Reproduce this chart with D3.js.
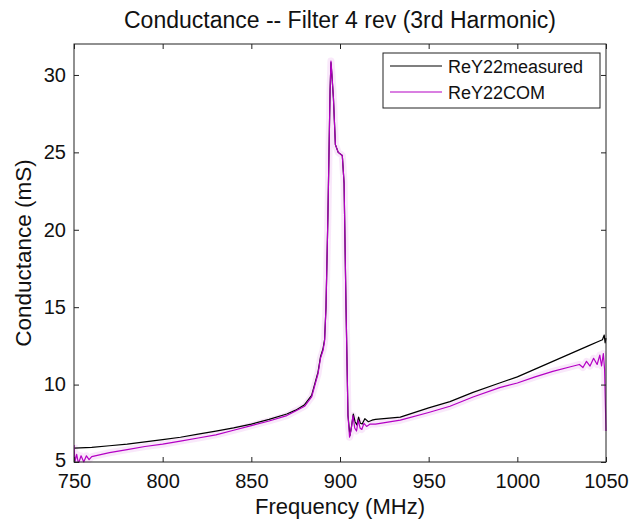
<!DOCTYPE html>
<html>
<head>
<meta charset="utf-8">
<script src="https://cdn.jsdelivr.net/npm/d3@7"></script>
<style>
  html, body { margin: 0; padding: 0; background: #fff; }
  text { font-family: "Liberation Sans", Arial, sans-serif; fill: #111; }
</style>
</head>
<body>
<svg id="chart" width="631" height="523"></svg>
<script>
// Frequency sweep (MHz) and real part of Y22 (mS)
const freqMeasured = [750, 760, 770, 780, 790, 800, 810, 820, 830, 840, 850, 860, 870, 875, 880, 884, 887.6, 889, 890.4, 891.3, 892.1, 893.2, 894.4, 894.9, 895.3, 896.3, 897.4, 899, 901.3, 902.3, 903.4, 904.5, 905.6, 906.5, 907.5, 908.5, 909.5, 910.5, 911.5, 912.5, 914, 916, 918, 920, 934, 950, 962, 975, 990, 1000, 1010, 1020, 1030, 1040, 1046, 1048, 1049, 1049.5, 1050];
const reY22measured = [5.9, 5.95, 6.05, 6.15, 6.3, 6.45, 6.6, 6.8, 7.0, 7.2, 7.45, 7.75, 8.1, 8.35, 8.7, 9.3, 10.8, 11.8, 12.3, 12.9, 15, 21, 29, 30.8, 30.2, 28.5, 25.5, 25.0, 24.8, 23, 15, 8, 6.7, 7.3, 8.1, 7.6, 7.4, 7.9, 7.5, 7.45, 7.8, 7.6, 7.7, 7.75, 7.9, 8.5, 8.9, 9.5, 10.1, 10.5, 11.0, 11.5, 12.0, 12.5, 12.8, 12.9, 13.2, 12.7, 13.0];

const freqCOM = [750, 750.5, 751.5, 752.5, 754, 755.5, 757, 758.5, 760, 770, 780, 790, 800, 810, 820, 830, 840, 850, 860, 870, 875, 880, 884, 887.6, 889, 890.4, 891.3, 892.1, 893.2, 894.4, 894.9, 895.3, 896.3, 897.4, 899, 901.3, 902.3, 903.4, 904.5, 905.4, 906.3, 907.3, 908.3, 909.3, 910.3, 911.3, 912.3, 913.5, 915, 917, 920, 934, 950, 962, 975, 990, 1000, 1010, 1020, 1030, 1035, 1037, 1039, 1041, 1043, 1045, 1046.5, 1047.5, 1048.5, 1049.2, 1049.6, 1050];
const reY22COM = [6.1, 5.0, 5.5, 4.9, 5.4, 5.0, 5.4, 5.15, 5.35, 5.6, 5.8, 6.0, 6.15, 6.35, 6.55, 6.75, 7.05, 7.35, 7.65, 8.0, 8.3, 8.6, 9.2, 10.7, 11.7, 12.2, 12.8, 15, 21, 29, 30.9, 30.3, 28.5, 25.5, 25.0, 24.8, 23, 15, 8, 6.6, 7.1, 8.0, 7.2, 7.0, 7.7, 7.2, 7.1, 7.5, 7.3, 7.45, 7.45, 7.7, 8.2, 8.6, 9.2, 9.8, 10.1, 10.5, 10.85, 11.15, 11.3, 11.1, 11.5, 11.2, 11.7, 11.3, 11.9, 11.2, 12.0, 11.0, 9.0, 7.0];

const xTicks = [750, 800, 850, 900, 950, 1000, 1050];
const yTicks = [5, 10, 15, 20, 25, 30];
const seriesNames = ["ReY22measured", "ReY22COM"];
const seriesColors = ["#000000", "#b400c4"];

const svg = d3.select("#chart");
const m = { left: 74, right: 606, top: 44, bottom: 462 };

const x = d3.scaleLinear().domain([750, 1050]).range([m.left, m.right]);
const y = d3.scaleLinear().domain([5, 32]).range([m.bottom, m.top]);

svg.append("defs").append("clipPath").attr("id", "plotclip")
  .append("rect")
  .attr("x", m.left).attr("y", m.top - 1)
  .attr("width", m.right - m.left + 1).attr("height", m.bottom - m.top + 2);

const line = d3.line().x(d => x(d[0])).y(d => y(d[1]));
const measured = freqMeasured.map((f, i) => [f, reY22measured[i]]);
const com = freqCOM.map((f, i) => [f, reY22COM[i]]);

const g = svg.append("g").attr("clip-path", "url(#plotclip)");
// soft halo along the magenta trace
g.append("path").datum(com).attr("d", line)
  .attr("fill", "none").attr("stroke", "#f3d2f5").attr("stroke-width", 7)
  .attr("stroke-linejoin", "round").attr("opacity", 0.5);
g.append("path").datum(measured).attr("d", line)
  .attr("fill", "none").attr("stroke", seriesColors[0]).attr("stroke-width", 1.2)
  .attr("stroke-linejoin", "round");
g.append("path").datum(com).attr("d", line)
  .attr("fill", "none").attr("stroke", seriesColors[1]).attr("stroke-width", 1.2)
  .attr("stroke-linejoin", "round");

// axes with inward ticks on all four sides
const tickLen = 5;
const fmt = d3.format("d");
const axB = svg.append("g").attr("transform", `translate(0,${m.bottom})`)
  .call(d3.axisBottom(x).tickValues(xTicks).tickSizeInner(-tickLen).tickSizeOuter(0).tickFormat(fmt));
const axT = svg.append("g").attr("transform", `translate(0,${m.top})`)
  .call(d3.axisTop(x).tickValues(xTicks).tickSizeInner(-tickLen).tickSizeOuter(0).tickFormat(""));
const axL = svg.append("g").attr("transform", `translate(${m.left},0)`)
  .call(d3.axisLeft(y).tickValues(yTicks).tickSizeInner(-tickLen).tickSizeOuter(0).tickPadding(8).tickFormat(fmt));
const axR = svg.append("g").attr("transform", `translate(${m.right},0)`)
  .call(d3.axisRight(y).tickValues(yTicks).tickSizeInner(-tickLen).tickSizeOuter(0).tickFormat(""));

[axB, axT, axL, axR].forEach(a => {
  a.select(".domain").remove();
  a.selectAll(".tick line").attr("stroke", "#222");
  a.selectAll(".tick text").attr("font-size", 20).attr("fill", "#111")
    .style("font-family", "'Liberation Sans', Arial, sans-serif");
});
// baseline placement of the frequency labels
axB.selectAll(".tick text").attr("dy", null).attr("y", 26);
// lift the lowest conductance label slightly so it clears "750"
axL.selectAll(".tick text").filter(d => d === 5).attr("dy", "0.22em");

// frame
svg.append("rect")
  .attr("x", m.left).attr("y", m.top)
  .attr("width", m.right - m.left).attr("height", m.bottom - m.top)
  .attr("fill", "none").attr("stroke", "#222").attr("stroke-width", 1);

// titles
svg.append("text").attr("x", 340).attr("y", 28).attr("text-anchor", "middle")
  .attr("font-size", 23).text("Conductance -- Filter 4 rev (3rd Harmonic)");
svg.append("text").attr("x", 340).attr("y", 514).attr("text-anchor", "middle")
  .attr("font-size", 22).text("Frequency (MHz)");
svg.append("text").attr("transform", "translate(31,253) rotate(-90)")
  .attr("text-anchor", "middle").attr("font-size", 22.5).text("Conductance (mS)");

// legend
const lg = svg.append("g");
lg.append("rect").attr("x", 383).attr("y", 53).attr("width", 217).attr("height", 55)
  .attr("fill", "#fff").attr("stroke", "#222").attr("stroke-width", 1);
seriesNames.forEach((name, i) => {
  const ly = 66 + i * 26;
  lg.append("line").attr("x1", 390).attr("x2", 442).attr("y1", ly).attr("y2", ly)
    .attr("stroke", seriesColors[i]).attr("stroke-width", 1.2);
  lg.append("text").attr("x", 448).attr("y", ly + 6.5).attr("font-size", 18).text(name);
});
</script>
</body>
</html>
